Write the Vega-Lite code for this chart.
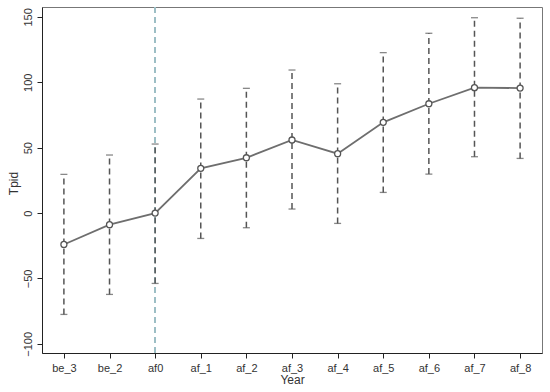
{
  "$schema": "https://vega.github.io/schema/vega-lite/v6.json",
  "width": 500,
  "height": 346,
  "autosize": "none",
  "padding": {"left": 42, "top": 7, "right": 8, "bottom": 39},
  "background": "white",
  "config": {
    "font": "Liberation Sans",
    "view": {"stroke": "#777", "strokeWidth": 1},
    "axis": {"grid": false, "labelFont": "Liberation Sans", "titleFont": "Liberation Sans", "labelColor": "#333", "titleColor": "#333", "labelFontSize": 11, "titleFontSize": 12, "titleFontWeight": "normal", "domainColor": "#222", "tickColor": "#222", "tickSize": 5}
  },
  "data": {"values": [
    {"year": "be_3", "coef": -24, "lo": -77.5, "hi": 29.6},
    {"year": "be_2", "coef": -8.9, "lo": -62.2, "hi": 44.4},
    {"year": "af0", "coef": 0, "lo": -53.8, "hi": 52.8},
    {"year": "af_1", "coef": 34.2, "lo": -19.4, "hi": 87.2},
    {"year": "af_2", "coef": 42.3, "lo": -11.2, "hi": 95.4},
    {"year": "af_3", "coef": 55.9, "lo": 3.1, "hi": 109.4},
    {"year": "af_4", "coef": 45.4, "lo": -7.9, "hi": 98.9},
    {"year": "af_5", "coef": 69.4, "lo": 15.8, "hi": 122.7},
    {"year": "af_6", "coef": 83.6, "lo": 29.8, "hi": 137.5},
    {"year": "af_7", "coef": 95.9, "lo": 43.1, "hi": 149.4},
    {"year": "af_8", "coef": 95.6, "lo": 41.8, "hi": 149}
  ]},
  "encoding": {
    "x": {
      "field": "year", "type": "nominal",
      "sort": ["be_3", "be_2", "af0", "af_1", "af_2", "af_3", "af_4", "af_5", "af_6", "af_7", "af_8"],
      "scale": {"type": "point", "padding": 0.48},
      "axis": {"title": "Year", "labelAngle": 0, "labelPadding": 4, "titlePadding": 1}
    }
  },
  "layer": [
    {
      "mark": {"type": "rule", "color": "#9dbfc6", "strokeDash": [6, 4], "strokeWidth": 1.2},
      "encoding": {"x": {"datum": "af0", "type": "nominal"}}
    },
    {
      "mark": {"type": "rule", "color": "#5f8ca6", "strokeWidth": 1.3},
      "encoding": {"y": {"datum": 0, "type": "quantitative"}}
    },
    {
      "mark": {"type": "rule", "color": "#555", "strokeDash": [6, 4], "strokeWidth": 1.5},
      "encoding": {
        "y": {"field": "lo", "type": "quantitative",
          "scale": {"domain": [-107, 157.6], "nice": false, "zero": false},
          "axis": {"title": "Tpid", "values": [-100, -50, 0, 50, 100, 150], "labelAngle": -90, "labelAlign": "center", "labelBaseline": "middle", "labelPadding": 9, "titleX": -22, "titleY": 176, "titleAngle": -90, "titleBaseline": "bottom", "titleAlign": "center"}},
        "y2": {"field": "hi"}
      }
    },
    {
      "mark": {"type": "tick", "color": "#555", "orient": "horizontal", "size": 7, "thickness": 1.3},
      "encoding": {"y": {"field": "lo", "type": "quantitative"}}
    },
    {
      "mark": {"type": "tick", "color": "#555", "orient": "horizontal", "size": 7, "thickness": 1.3},
      "encoding": {"y": {"field": "hi", "type": "quantitative"}}
    },
    {
      "mark": {"type": "line", "color": "#6e6e6e", "strokeWidth": 1.8},
      "encoding": {"y": {"field": "coef", "type": "quantitative"}}
    },
    {
      "mark": {"type": "point", "shape": "circle", "filled": false, "fill": "white", "fillOpacity": 1, "stroke": "#555", "strokeWidth": 1.3, "size": 36, "opacity": 1},
      "encoding": {"y": {"field": "coef", "type": "quantitative"}}
    }
  ]
}
